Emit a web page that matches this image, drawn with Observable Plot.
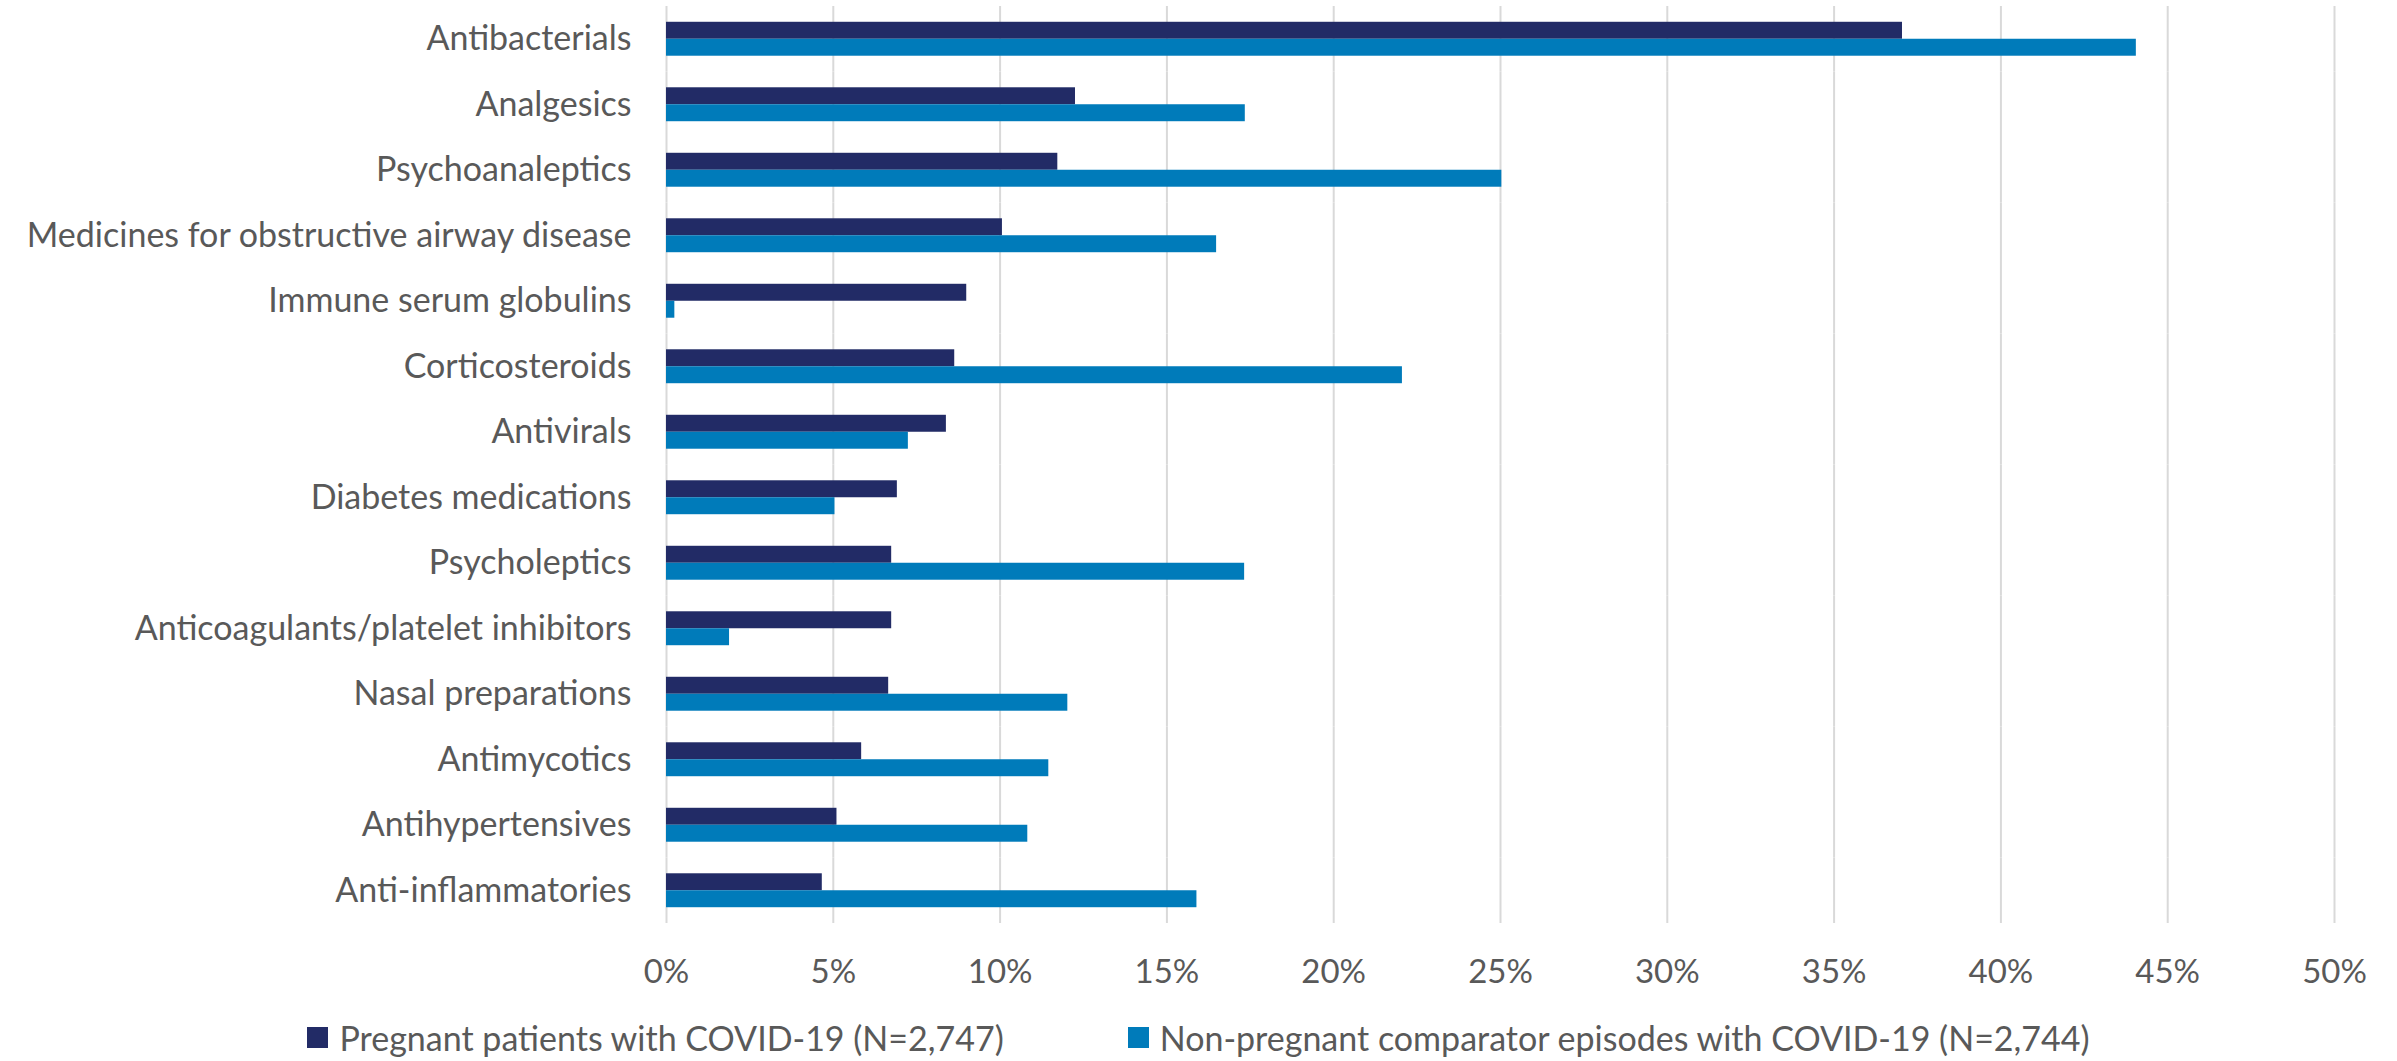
<!DOCTYPE html>
<html>
<head>
<meta charset="utf-8">
<script src="https://cdn.jsdelivr.net/npm/d3@7"></script>
<script src="https://cdn.jsdelivr.net/npm/@observablehq/plot@0.6"></script>
<style>
  html, body { margin: 0; padding: 0; background: #ffffff; }
  #chart svg { display: block; }
  .legend {
    display: flex; justify-content: center; align-items: center; gap: 124px;
    font-family: Lato, "Noto Sans", sans-serif; font-size: 34px; color: #595959;
    height: 61px; padding-top: 14px; box-sizing: border-box; white-space: nowrap;
  }
  .legend .item { display: flex; align-items: center; }
  .legend .sw { width: 21px; height: 21px; margin-right: 11px; display: inline-block; }
</style>
</head>
<body>
<div id="chart"></div>
<div class="legend" id="legend"></div>
<script>
const categories = [
  "Antibacterials",
  "Analgesics",
  "Psychoanaleptics",
  "Medicines for obstructive airway disease",
  "Immune serum globulins",
  "Corticosteroids",
  "Antivirals",
  "Diabetes medications",
  "Psycholeptics",
  "Anticoagulants/platelet inhibitors",
  "Nasal preparations",
  "Antimycotics",
  "Antihypertensives",
  "Anti-inflammatories"
];
// percent values
const pregnant =    [37.05, 12.26, 11.73, 10.07, 9.00, 8.64, 8.39, 6.92, 6.75, 6.75, 6.66, 5.85, 5.11, 4.67];
const nonPregnant = [44.06, 17.35, 25.04, 16.49, 0.25, 22.06, 7.25, 5.05, 17.33, 1.89, 12.03, 11.46, 10.83, 15.90];
const seriesNames = [
  "Pregnant patients with COVID-19 (N=2,747)",
  "Non-pregnant comparator episodes with COVID-19 (N=2,744)"
];
const seriesColors = ["#222B66", "#007BBA"];
const xTicks = [0, 0.05, 0.10, 0.15, 0.20, 0.25, 0.30, 0.35, 0.40, 0.45, 0.50];

const data = categories.flatMap((c, i) => [
  {category: c, series: seriesNames[0], value: pregnant[i] / 100},
  {category: c, series: seriesNames[1], value: nonPregnant[i] / 100}
]);

const chart = Plot.plot({
  width: 2397,
  height: 1000,
  marginLeft: 666,
  marginRight: 63,
  marginTop: 6,
  marginBottom: 77,
  style: {fontFamily: "Lato, 'Noto Sans', sans-serif", fontSize: "33px", color: "#595959", background: "#ffffff"},
  x: {domain: [0, 0.5], ticks: xTicks, tickFormat: d3.format(".0%"), label: null},
  fy: {domain: categories, padding: 0, round: false, label: null},
  y: {domain: seriesNames, axis: null, paddingInner: 0, paddingOuter: 0.93, round: false},
  color: {domain: seriesNames, range: seriesColors},
  marks: [
    Plot.gridX(xTicks, {stroke: "#D9D9D9", strokeOpacity: 1, strokeWidth: 2}),
    Plot.barX(data, {fy: "category", y: "series", x: "value", fill: "series"}),
    Plot.axisX({ticks: xTicks, tickFormat: d3.format(".0%"), tickSize: 0, tickPadding: 36, label: null, fill: "#595959"}),
    Plot.axisFy({anchor: "left", tickSize: 0, tickPadding: 35, label: null, fill: "#595959", fontSize: 34})
  ]
});
document.getElementById("chart").appendChild(chart);

const legend = document.getElementById("legend");
seriesNames.forEach((name, i) => {
  const item = document.createElement("div");
  item.className = "item";
  const sw = document.createElement("span");
  sw.className = "sw";
  sw.style.background = seriesColors[i];
  const t = document.createElement("span");
  t.textContent = name;
  item.appendChild(sw);
  item.appendChild(t);
  legend.appendChild(item);
});
</script>
</body>
</html>
